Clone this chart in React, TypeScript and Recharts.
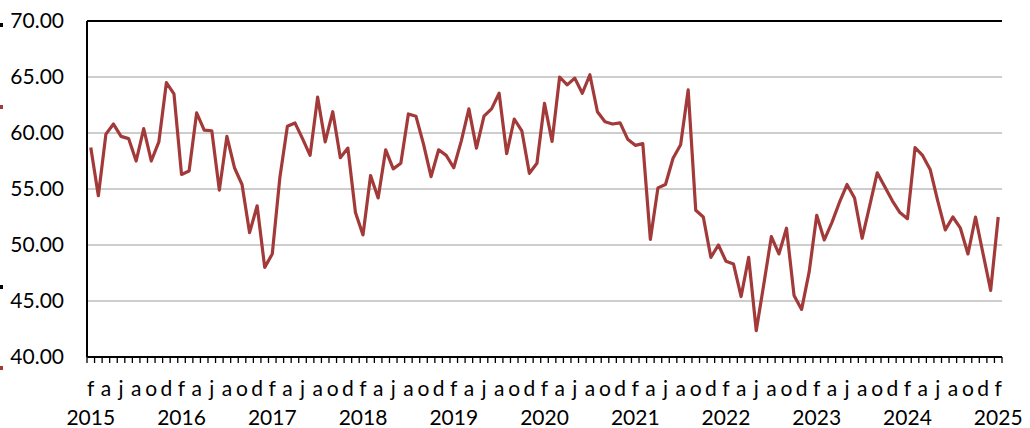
import { LineChart, Line, XAxis, YAxis, CartesianGrid, ReferenceLine } from 'recharts';

// monthly series, Feb 2015 .. Feb 2025
const years = [2015, 2016, 2017, 2018, 2019, 2020, 2021, 2022, 2023, 2024, 2025];
const monthInitials = ['e', 'f', 'm', 'a', 'm', 'j', 'j', 'a', 's', 'o', 'n', 'd'];
const values = [
  58.7, 54.4, 59.9, 60.8, 59.7, 59.5, 57.5, 60.4, 57.5, 59.2, 64.5, 63.5,
  56.3, 56.6, 61.8, 60.25, 60.2, 54.9, 59.7, 56.9, 55.4, 51.1, 53.5, 48.0,
  49.2, 56.0, 60.6, 60.9, 59.5, 58.0, 63.2, 59.2, 61.9, 57.8, 58.65, 52.9,
  50.9, 56.2, 54.2, 58.5, 56.8, 57.3, 61.7, 61.5, 59.0, 56.1, 58.5, 58.0,
  56.9, 59.3, 62.15, 58.65, 61.5, 62.15, 63.55, 58.15, 61.25, 60.2, 56.4, 57.3,
  62.65, 59.25, 65.0, 64.3, 64.9, 63.55, 65.2, 61.9, 61.0, 60.8, 60.9, 59.45,
  58.9, 59.05, 50.5, 55.1, 55.4, 57.75, 58.95, 63.85, 53.1, 52.5, 48.9, 50.0,
  48.55, 48.3, 45.4, 48.9, 42.35, 46.5, 50.75, 49.2, 51.5, 45.5, 44.25, 47.6,
  52.65, 50.45, 52.0, 53.8, 55.4, 54.2, 50.6, 53.5, 56.45, 55.2, 53.95, 52.9,
  52.35, 58.7, 58.0, 56.75, 53.95, 51.35, 52.5, 51.5, 49.2, 52.5, 49.2, 45.95,
  52.5,
];
const yTicks = [40, 45, 50, 55, 60, 65, 70];

const data = values.map((v, i) => {
  const m = (i + 1) % 12;
  const yr = years[Math.floor((i + 1) / 12)];
  return { key: `${yr}-${m}`, letter: monthInitials[m], year: m === 1 ? String(yr) : '', value: v };
});

const W = 1030;
const H = 428;
const PLOT_LEFT = 87;
const PLOT_RIGHT = 1002;
const STEP = (PLOT_RIGHT - PLOT_LEFT) / data.length;
const RED = '#a33a3a';
const FONT = 'Lato, sans-serif';

function MonthTick(props: any) {
  const { x, y, index } = props;
  const d = data[index];
  if (!d) return null;
  const axisY = y - 8;
  const half = STEP / 2;
  return (
    <g>
      <line x1={x - half} x2={x - half} y1={axisY} y2={axisY + 6} stroke="#000" strokeWidth={1.3} />
      {index === data.length - 1 && (
        <line x1={x + half} x2={x + half} y1={axisY} y2={axisY + 6} stroke="#000" strokeWidth={1.3} />
      )}
      {index % 2 === 0 && (
        <text x={x} y={axisY + 39} textAnchor="middle" fontSize={21} fontFamily={FONT} fill="#000">
          {d.letter}
        </text>
      )}
      {d.year && (
        <text x={x} y={axisY + 68} textAnchor="middle" fontSize={21} fontFamily={FONT} fill="#000">
          {d.year}
        </text>
      )}
    </g>
  );
}

export default function App() {
  return (
    <div style={{ position: 'absolute', left: 0, top: 0, width: W, height: H, background: '#fff' }}>
      {/* stray legend markers at the left edge */}
      <div style={{ position: 'absolute', left: 0, top: 23, width: 3, height: 4, background: '#000' }} />
      <div style={{ position: 'absolute', left: 0, top: 105, width: 3, height: 4, background: RED }} />
      <div style={{ position: 'absolute', left: 0, top: 285, width: 3, height: 4, background: '#000' }} />
      <div style={{ position: 'absolute', left: 0, top: 366, width: 3, height: 4, background: RED }} />
      <LineChart width={W} height={H} data={data} margin={{ top: 21, right: W - PLOT_RIGHT, left: 0, bottom: 0 }}>
        <CartesianGrid vertical={false} stroke="#bdbdbd" strokeWidth={1.4} />
        <XAxis
          dataKey="key"
          interval={0}
          height={H - 357}
          padding={{ left: STEP / 2, right: STEP / 2 }}
          tickSize={6}
          tickMargin={2}
          tickLine={false}
          axisLine={{ stroke: '#000', strokeWidth: 2 }}
          tick={<MonthTick />}
        />
        <YAxis
          domain={[40, 70]}
          ticks={yTicks}
          width={PLOT_LEFT}
          tickSize={0}
          tickMargin={23}
          tickLine={false}
          axisLine={{ stroke: '#000', strokeWidth: 2 }}
          tickFormatter={(v: number) => v.toFixed(2)}
          tick={{ fontSize: 21, fontFamily: FONT, fill: '#000' }}
        />
        <YAxis
          yAxisId="right"
          orientation="right"
          domain={[40, 70]}
          width={0}
          tick={false}
          tickLine={false}
          axisLine={{ stroke: '#000', strokeWidth: 2 }}
        />
        <ReferenceLine y={70} stroke="#000" strokeWidth={2} />
        <Line
          type="linear"
          dataKey="value"
          stroke={RED}
          strokeWidth={3.2}
          strokeLinejoin="round"
          dot={false}
          activeDot={false}
          isAnimationActive={false}
        />
      </LineChart>
    </div>
  );
}
